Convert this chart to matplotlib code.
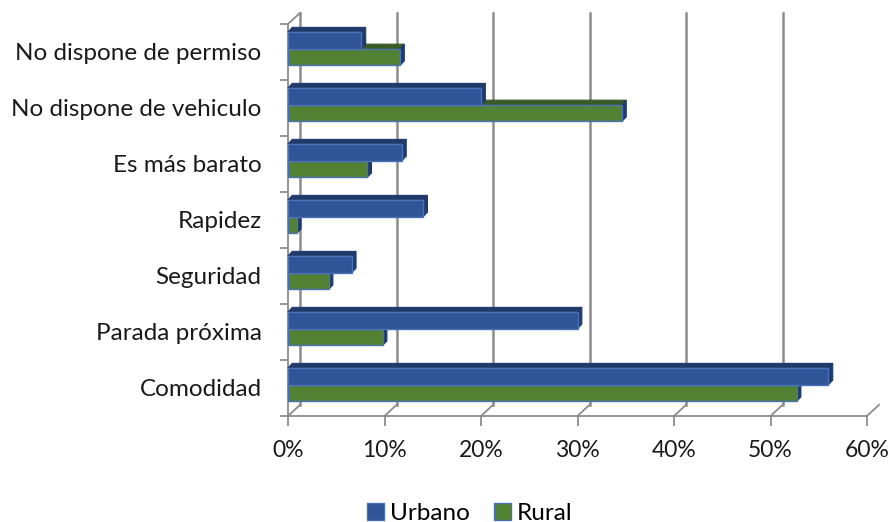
import matplotlib.pyplot as plt
from matplotlib.patches import Polygon, Patch

# data (bottom to top)
categories = ['Comodidad', 'Parada próxima', 'Seguridad', 'Rapidez',
              'Es más barato', 'No dispone de vehiculo', 'No dispone de permiso']
urbano = [56, 30, 6.6, 14, 11.8, 20, 7.6]
rural = [52.7, 9.8, 4.2, 0.9, 8.2, 34.6, 11.6]
xticks = [0, 10, 20, 30, 40, 50, 60]

plt.rcParams['font.family'] = ['Lato', 'DejaVu Sans']

blue, blue_dark = '#2F5597', '#1F3A6B'
green, green_dark = '#548235', '#3A5A28'
grid_col = '#8C8C8C'
txt_col = '#1A1A1A'

fig = plt.figure(figsize=(8.91, 5.22), dpi=100)
ax = fig.add_axes([288 / 891, 106 / 522, (867 - 288) / 891, 392 / 522])
ax.set_xlim(0, 60)
ax.set_ylim(0, 7)

# wall depth in data units
wdx, wdy = 1.25, 0.2
# back wall gridlines + left wall back edge
for v in xticks[:-1]:
    ax.plot([v + wdx, v + wdx], [wdy, 7 + wdy], color=grid_col, lw=1.8, clip_on=False, zorder=1)
    ax.plot([v, v + wdx], [0, wdy], color=grid_col, lw=1.3, clip_on=False, zorder=1)
ax.plot([60, 60 + wdx], [0, wdy], color=grid_col, lw=1.3, clip_on=False, zorder=1)
ax.plot([0, wdx], [7, 7 + wdy], color=grid_col, lw=1.3, clip_on=False, zorder=1)

# bars with a small 3D look
h = 0.30
ddx, ddy = 0.45, 0.08


def bar3d(y0, w, face, dark):
    y1 = y0 + h
    top = Polygon([(0, y1), (w, y1), (w + ddx, y1 + ddy), (ddx, y1 + ddy)],
                  closed=True, facecolor=dark, edgecolor=dark, lw=0.8, clip_on=False, zorder=3)
    side = Polygon([(w, y0), (w, y1), (w + ddx, y1 + ddy), (w + ddx, y0 + ddy)],
                   closed=True, facecolor=blue_dark, edgecolor=blue_dark, lw=0.8, clip_on=False, zorder=3)
    ax.add_patch(top)
    ax.add_patch(side)
    ax.add_patch(plt.Rectangle((0, y0), w, h, facecolor=face, edgecolor='#4A72B8',
                               lw=1.0, clip_on=False, zorder=4))


for i in range(len(categories)):
    yc = i + 0.56
    bar3d(yc - h, rural[i], green, green_dark)
    bar3d(yc, urbano[i], blue, blue_dark)

# axes styling
for s in ['top', 'right']:
    ax.spines[s].set_visible(False)
for s in ['left', 'bottom']:
    ax.spines[s].set_color(grid_col)
    ax.spines[s].set_linewidth(1.3)

ax.set_xticks(xticks)
ax.set_xticklabels([f'{v}%' for v in xticks], fontsize=16.5, color=txt_col)
ax.tick_params(axis='x', length=7, width=1.3, color=grid_col, pad=10)

ax.set_yticks(range(8))
ax.set_yticklabels([])
ax.set_yticks([i + 0.5 for i in range(len(categories))], minor=True)
ax.set_yticklabels(categories, minor=True, fontsize=17.5, color=txt_col)
ax.tick_params(axis='y', which='major', length=6, width=1.3, color=grid_col)
ax.tick_params(axis='y', which='minor', length=0, pad=19)

handles = [Patch(facecolor=blue, edgecolor='#4A72B8', label='Urbano'),
           Patch(facecolor=green, edgecolor='#4A72B8', label='Rural')]
fig.legend(handles=handles, loc='lower center', bbox_to_anchor=(0.527, -0.045), ncol=2,
           frameon=False, fontsize=17.5, handlelength=0.7, handleheight=0.7,
           handletextpad=0.25, columnspacing=1.0)

fig.savefig('out.png', dpi=100)
